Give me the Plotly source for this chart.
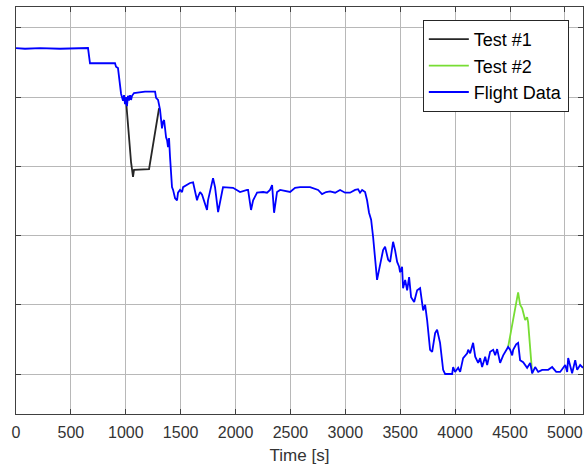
import plotly.graph_objects as go

# Flight data (time in s, value in arbitrary units)
flight_t = [0, 82, 219, 401, 656, 674, 902, 911, 929, 939, 948, 957, 966, 975, 984, 993,
            1002, 1011, 1020, 1029, 1039, 1048, 1057, 1075, 1175, 1267, 1276, 1294, 1312,
            1330, 1339, 1349, 1367, 1376, 1385, 1394, 1403, 1421, 1431, 1449, 1467, 1476,
            1494, 1513, 1522, 1558, 1585, 1613, 1631, 1649, 1658, 1677, 1695, 1722, 1740,
            1749, 1768, 1795, 1813, 1832, 1841, 1877, 1886, 1977, 2014, 2041, 2105, 2114,
            2141, 2160, 2196, 2251, 2287, 2314, 2333, 2351, 2378, 2406, 2497, 2542, 2588,
            2679, 2752, 2788, 2825, 2861, 2907, 2952, 2998, 3043, 3089, 3116, 3134, 3153,
            3180, 3198, 3216, 3235, 3253, 3271, 3289, 3317, 3344, 3362, 3390, 3408, 3435,
            3453, 3472, 3490, 3499, 3517, 3526, 3545, 3563, 3581, 3599, 3627, 3654, 3681,
            3709, 3727, 3745, 3772, 3791, 3818, 3836, 3863, 3891, 3909, 3973, 3982, 4000,
            4028, 4046, 4073, 4110, 4119, 4137, 4164, 4183, 4210, 4228, 4246, 4274, 4292,
            4319, 4347, 4365, 4383, 4410, 4438, 4456, 4483, 4501, 4520, 4529, 4556, 4574,
            4592, 4620, 4638, 4656, 4684, 4702, 4729, 4757, 4793, 4848, 4884, 4921, 4957,
            5003, 5021, 5030, 5066, 5094, 5112, 5139, 5165]
flight_v = [4.71, 4.70, 4.71, 4.70, 4.71, 4.49, 4.49, 4.44, 4.42, 4.25, 4.10, 4.05, 4.00,
            3.95, 4.03, 3.90, 4.00, 3.87, 4.02, 3.95, 4.03, 3.96, 4.02, 4.06, 4.08, 4.08,
            3.99, 3.96, 3.82, 3.55, 3.64, 3.67, 3.42, 3.38, 3.28, 3.41, 3.14, 2.70, 2.66,
            2.54, 2.51, 2.62, 2.66, 2.63, 2.70, 2.73, 2.76, 2.77, 2.63, 2.51, 2.56, 2.63,
            2.59, 2.47, 2.37, 2.51, 2.66, 2.83, 2.70, 2.47, 2.34, 2.63, 2.70, 2.69, 2.66,
            2.63, 2.66, 2.66, 2.37, 2.51, 2.62, 2.63, 2.62, 2.66, 2.73, 2.33, 2.63, 2.66,
            2.63, 2.69, 2.70, 2.70, 2.66, 2.60, 2.63, 2.64, 2.62, 2.66, 2.62, 2.62, 2.66,
            2.67, 2.62, 2.66, 2.63, 2.51, 2.33, 2.23, 1.98, 1.69, 1.36, 1.58, 1.79, 1.84,
            1.65, 1.62, 1.91, 1.79, 1.62, 1.55, 1.47, 1.55, 1.24, 1.36, 1.21, 1.40, 1.11,
            1.04, 1.21, 1.24, 0.92, 1.00, 0.78, 0.35, 0.32, 0.59, 0.64, 0.45, 0.06, 0.00,
            0.00, 0.10, 0.03, 0.09, 0.03, 0.23, 0.30, 0.35, 0.30, 0.45, 0.25, 0.16, 0.23,
            0.10, 0.25, 0.13, 0.32, 0.35, 0.27, 0.36, 0.16, 0.27, 0.32, 0.39, 0.35, 0.27,
            0.35, 0.43, 0.45, 0.20, 0.17, 0.13, 0.09, 0.16, 0.01, 0.10, 0.03, 0.06, 0.06,
            0.10, 0.03, 0.03, 0.13, 0.03, 0.23, 0.01, 0.20, 0.06, 0.13, 0.09]

test1_t = [1002, 1048, 1066, 1075, 1212, 1303]
test1_v = [3.96, 3.06, 2.85, 2.95, 2.96, 3.84]

test2_t = [4483, 4574, 4592, 4611, 4638, 4656, 4665, 4702]
test2_v = [0.39, 1.18, 1.00, 0.95, 0.78, 0.82, 0.75, 0.01]

x_ticks = [0, 500, 1000, 1500, 2000, 2500, 3000, 3500, 4000, 4500, 5000]

fig = go.Figure()
fig.add_trace(go.Scatter(x=test1_t, y=test1_v, mode="lines", name="Test #1",
                         line=dict(color="#262626", width=1.8)))
fig.add_trace(go.Scatter(x=test2_t, y=test2_v, mode="lines", name="Test #2",
                         line=dict(color="#77dd33", width=1.8)))
fig.add_trace(go.Scatter(x=flight_t, y=flight_v, mode="lines", name="Flight Data",
                         line=dict(color="#0000ff", width=1.8)))

axis_common = dict(showline=True, linecolor="#404040", linewidth=1, mirror="ticks",
                   ticks="inside", ticklen=5, tickcolor="#404040", automargin=False,
                   showgrid=True, gridcolor="#b8b8b8", gridwidth=1, zeroline=False)

fig.update_xaxes(range=[0, 5165], tickvals=x_ticks,
                 ticktext=[str(v) for v in x_ticks],
                 ticklabelstandoff=4,
                 tickfont=dict(family="Liberation Sans, Arial", size=16, color="#333333"),
                 title=dict(text="Time [s]", standoff=8,
                            font=dict(family="Liberation Sans, Arial", size=17, color="#333333")),
                 **axis_common)
fig.update_yaxes(range=[-0.578, 5.303], tick0=0, dtick=1, showticklabels=False,
                 **axis_common)

fig.update_layout(
    width=584, height=466,
    margin=dict(l=16, r=1, t=7, b=52),
    plot_bgcolor="white", paper_bgcolor="white",
    showlegend=True,
    legend=dict(x=0.975, y=0.968, xanchor="right", yanchor="top",
                bgcolor="white", bordercolor="#262626", borderwidth=1,
                font=dict(family="Liberation Sans, Arial", size=18, color="#000000"),
                tracegroupgap=0, itemwidth=40),
)

fig.write_html("out.html", config={"displayModeBar": False},
               post_script="document.body.style.margin='0';document.body.style.overflow='hidden';")
